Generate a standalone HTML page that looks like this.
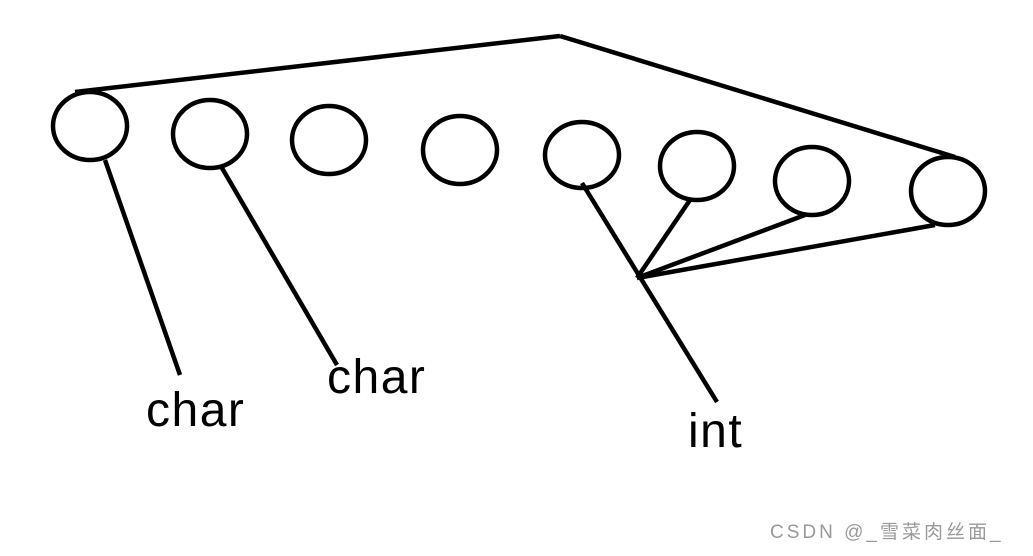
<!DOCTYPE html>
<html><head><meta charset="utf-8"><style>
html,body{margin:0;padding:0;background:#fff;}
</style></head><body>
<svg width="1033" height="551" xmlns="http://www.w3.org/2000/svg">
<g fill="none" stroke="#000" stroke-width="4.5">
<ellipse cx="90" cy="126" rx="37" ry="34"/>
<ellipse cx="210" cy="134" rx="37" ry="34"/>
<ellipse cx="329" cy="140" rx="37" ry="34"/>
<ellipse cx="460" cy="150" rx="37" ry="34"/>
<ellipse cx="582" cy="155" rx="37" ry="33"/>
<ellipse cx="697" cy="166" rx="37" ry="34"/>
<ellipse cx="812" cy="181" rx="37" ry="34"/>
<ellipse cx="948" cy="191" rx="37" ry="34"/>
<line x1="75" y1="92" x2="560" y2="36"/>
<line x1="560" y1="36" x2="955" y2="157"/>
<line x1="105" y1="160" x2="180" y2="375"/>
<line x1="222" y1="168" x2="337" y2="365"/>
<line x1="582" y1="183" x2="717" y2="402"/>
<line x1="637" y1="278" x2="690" y2="200"/>
<line x1="637" y1="278" x2="805" y2="215"/>
<line x1="637" y1="278" x2="935" y2="225"/>
</g>
<g font-family="Liberation Sans, sans-serif" font-size="48" fill="#000" letter-spacing="1.5">
<text x="146" y="426">char</text>
<text x="327" y="393">char</text>
<text x="688" y="447">int</text>
</g>
<text x="770" y="538" font-family="Liberation Sans, Noto Sans CJK SC, sans-serif" font-size="19" letter-spacing="3" fill="#999">CSDN @_雪菜肉丝面_</text>
</svg>
</body></html>
